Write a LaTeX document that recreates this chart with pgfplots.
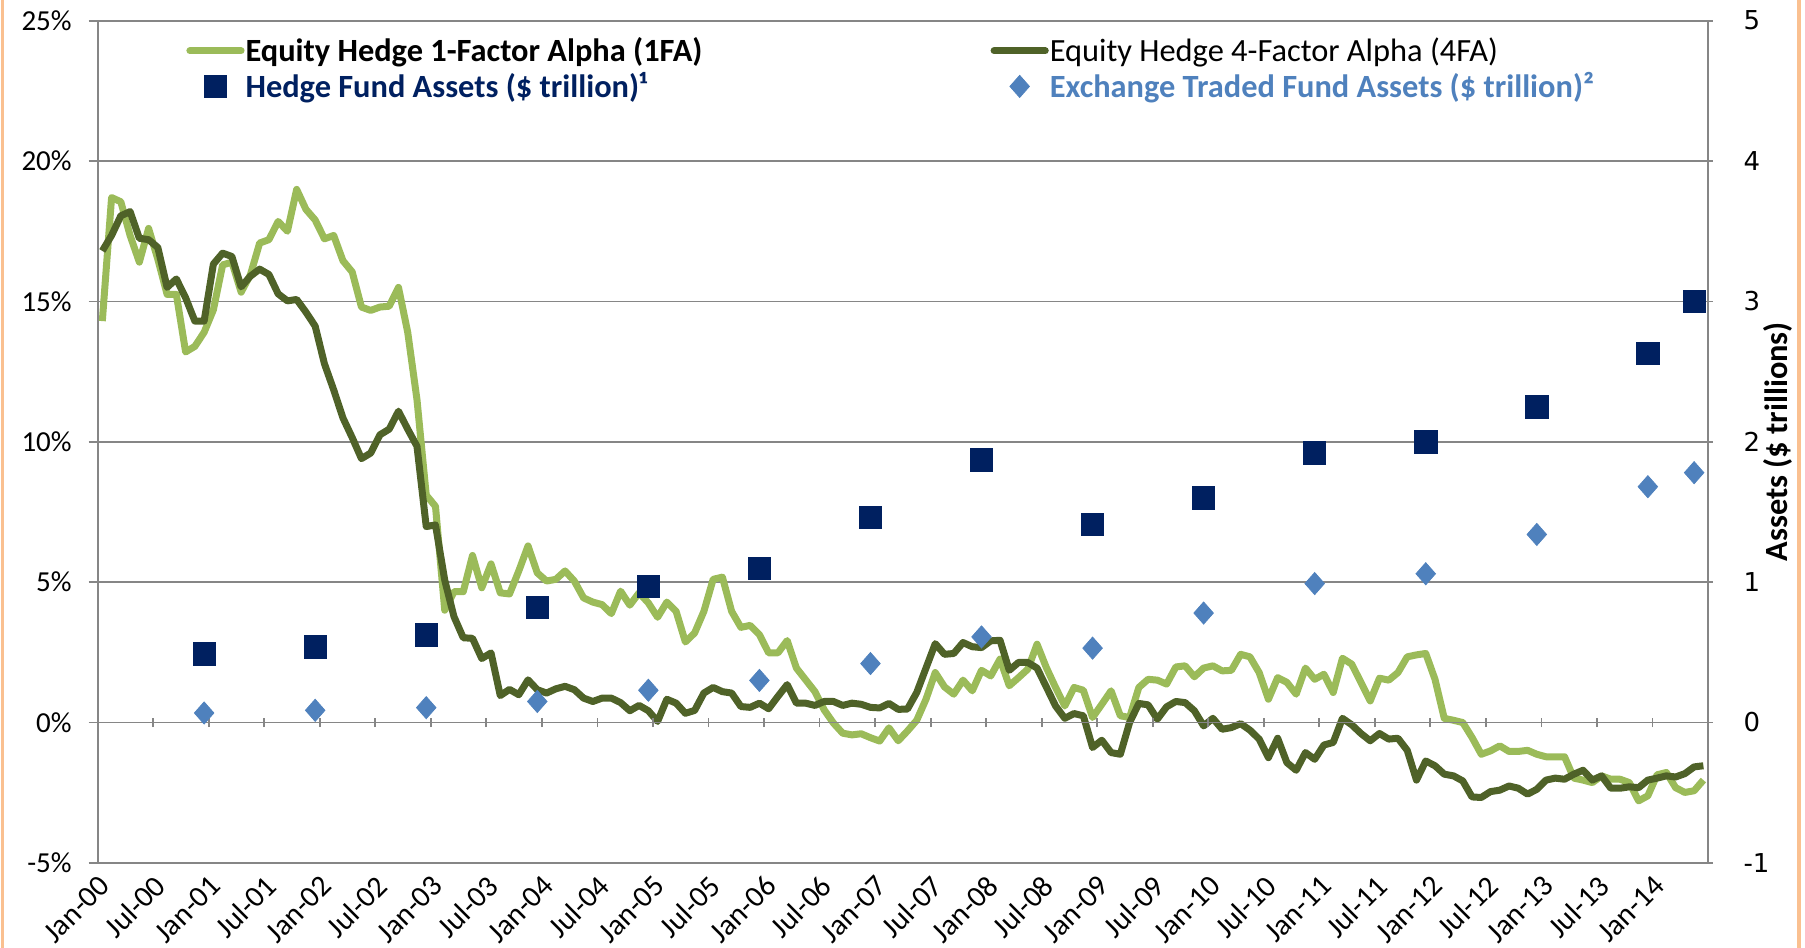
\documentclass[border=0pt]{standalone}
\usepackage{fontspec}
\setmainfont{Carlito}
\newfontfamily\verd{DejaVu Sans}
\usepackage{pgfplots}
\usepackage{pgfplotstable}
\pgfplotsset{compat=1.18}
\definecolor{lg}{HTML}{9BBB59}
\definecolor{dg}{HTML}{4F6228}
\definecolor{hf}{HTML}{002060}
\definecolor{etf}{HTML}{4F81BD}
\definecolor{gridc}{HTML}{868686}
\definecolor{frameor}{HTML}{FAC090}
\pgfplotstableread{
i a1 a4
0 14.3 16.8
1 18.7 17.35
2 18.55 18.05
3 17.35 18.2
4 16.4 17.25
5 17.6 17.2
6 16.5 16.92
7 15.25 15.5
8 15.25 15.8
9 13.2 15.13
10 13.4 14.3
11 13.9 14.3
12 14.7 16.33
13 16.3 16.72
14 16.4 16.6
15 15.33 15.52
16 15.95 15.9
17 17.08 16.15
18 17.2 15.96
19 17.85 15.27
20 17.5 15.02
21 18.99 15.07
22 18.28 14.62
23 17.9 14.12
24 17.23 12.78
25 17.35 11.85
26 16.45 10.85
27 16.05 10.15
28 14.8 9.4
29 14.68 9.6
30 14.8 10.25
31 14.83 10.45
32 15.5 11.09
33 13.9 10.45
34 11.5 9.84
35 8.1 6.98
36 7.7 7.04
37 4.0 5.07
38 4.66 3.77
39 4.66 3.02
40 5.95 3.0
41 4.8 2.28
42 5.65 2.48
43 4.62 0.96
44 4.58 1.18
45 5.4 0.99
46 6.29 1.52
47 5.33 1.17
48 5.04 1.05
49 5.1 1.2
50 5.4 1.29
51 5.04 1.17
52 4.44 0.87
53 4.29 0.75
54 4.2 0.87
55 3.88 0.87
56 4.68 0.71
57 4.18 0.42
58 4.62 0.61
59 4.26 0.42
60 3.75 0.04
61 4.29 0.83
62 3.96 0.69
63 2.87 0.33
64 3.19 0.43
65 3.96 1.05
66 5.1 1.25
67 5.18 1.1
68 3.96 1.05
69 3.39 0.57
70 3.46 0.54
71 3.13 0.69
72 2.48 0.49
73 2.48 0.93
74 2.92 1.35
75 1.94 0.69
76 1.52 0.69
77 1.1 0.61
78 0.45 0.75
79 -0.02 0.75
80 -0.38 0.61
81 -0.44 0.69
82 -0.4 0.65
83 -0.54 0.54
84 -0.66 0.52
85 -0.19 0.68
86 -0.65 0.47
87 -0.3 0.48
88 0.08 1.07
89 0.83 1.94
90 1.78 2.81
91 1.27 2.43
92 1.01 2.46
93 1.51 2.85
94 1.13 2.7
95 1.86 2.67
96 1.66 2.91
97 2.26 2.93
98 1.31 1.86
99 1.6 2.14
100 1.9 2.14
101 2.79 1.94
102 1.96 1.27
103 1.25 0.59
104 0.59 0.15
105 1.25 0.32
106 1.15 0.24
107 0.18 -0.89
108 0.65 -0.63
109 1.13 -1.07
110 0.24 -1.13
111 0.18 0.0
112 1.25 0.68
113 1.54 0.63
114 1.51 0.12
115 1.37 0.56
116 1.98 0.75
117 2.02 0.71
118 1.63 0.42
119 1.94 -0.12
120 2.02 0.15
121 1.84 -0.24
122 1.86 -0.18
123 2.43 -0.04
124 2.34 -0.27
125 1.78 -0.59
126 0.83 -1.25
127 1.6 -0.56
128 1.43 -1.43
129 1.01 -1.7
130 1.94 -1.07
131 1.54 -1.31
132 1.72 -0.8
133 1.07 -0.71
134 2.29 0.15
135 2.08 -0.08
136 1.43 -0.39
137 0.77 -0.65
138 1.58 -0.39
139 1.51 -0.59
140 1.78 -0.56
141 2.34 -0.99
142 2.41 -2.05
143 2.46 -1.37
144 1.54 -1.54
145 0.15 -1.84
146 0.08 -1.9
147 0.0 -2.08
148 -0.53 -2.65
149 -1.13 -2.67
150 -1.01 -2.46
151 -0.83 -2.41
152 -1.03 -2.26
153 -1.03 -2.34
154 -0.99 -2.55
155 -1.13 -2.38
156 -1.22 -2.05
157 -1.22 -1.98
158 -1.22 -2.02
159 -1.98 -1.84
160 -2.05 -1.7
161 -2.14 -2.05
162 -1.9 -1.9
163 -2.02 -2.34
164 -2.02 -2.34
165 -2.14 -2.29
166 -2.79 -2.32
167 -2.61 -2.05
168 -1.86 -1.98
169 -1.78 -1.9
170 -2.32 -1.94
171 -2.49 -1.82
172 -2.43 -1.58
173 -2.05 -1.54
}\alphas
\pgfplotstableread{
i hf etf
11 0.49 0.068
23 0.54 0.087
35 0.625 0.106
47 0.82 0.15
59 0.97 0.23
71 1.10 0.30
83 1.46 0.42
95 1.87 0.61
107 1.41 0.53
119 1.60 0.78
131 1.92 0.99
143 2.00 1.06
155 2.25 1.34
167 2.63 1.68
172 3.00 1.78
}\assets
\begin{document}
\begin{tikzpicture}
\path[use as bounding box] (-48.85pt,-42.55pt) rectangle (853.65pt,431.45pt);
\draw[frameor, line width=1.6pt] (-47.6pt,-42.55pt) -- (-47.6pt,431.45pt);
\draw[frameor, line width=1.6pt] (850.65pt,-42.55pt) -- (850.65pt,431.45pt);
\pgfplotsset{base/.style={scale only axis, width=805.15pt, height=421.1pt,
  xmin=-0.5, xmax=173.5, at={(0pt,0pt)}, anchor=south west,
  tick align=outside, major tick length=4.5pt,
  axis line style={gridc, line width=0.9pt}}}
\begin{axis}[base, ymin=-5, ymax=25,
  ytick={-5,0,...,25}, yticklabels={-5\%,0\%,5\%,10\%,15\%,20\%,25\%},
  ytick pos=left, xtick pos=bottom,
  ymajorgrids, grid style={gridc, line width=0.9pt},
  ytick style={gridc, line width=0.9pt},
  xtick={0,6,...,168},
  xticklabels={Jan-00,Jul-00,Jan-01,Jul-01,Jan-02,Jul-02,Jan-03,Jul-03,Jan-04,Jul-04,Jan-05,Jul-05,Jan-06,Jul-06,Jan-07,Jul-07,Jan-08,Jul-08,Jan-09,Jul-09,Jan-10,Jul-10,Jan-11,Jul-11,Jan-12,Jul-12,Jan-13,Jul-13,Jan-14},
  xtick style={draw=none},
  xticklabel style={rotate=45, anchor=east, yshift=-4pt, xshift=1pt, font=\fontsize{15}{17}\selectfont},
  yticklabel style={xshift=-5pt, font=\fontsize{14.5}{17}\selectfont},
]
\addplot[lg, line width=3.5pt, line join=round] table[x=i, y=a1] {\alphas};
\addplot[dg, line width=3.5pt, line join=round] table[x=i, y=a4] {\alphas};
\end{axis}
\begin{axis}[base, ymin=-1, ymax=5,
  axis x line=middle, axis y line=right,
  axis line style={-},
  xtick={5.5,11.5,...,167.5}, xticklabels={},
  xtick style={gridc, line width=0.9pt},
  ytick={-1,0,...,5}, yticklabels={-1,0,1,2,3,4,5},
  ytick style={gridc, line width=0.9pt},
  yticklabel style={xshift=12pt, font=\verd\fontsize{13}{15}\selectfont},
  ylabel={\textbf{Assets (\$ trillions)}},
  ylabel style={font=\fontsize{16.2}{19}\selectfont, at={(axis description cs:1.0433,0.5)}, anchor=center, rotate=0},
  legend columns=2,
  legend cell align=left,
  legend image code/.code={\draw[mark repeat=2, mark phase=2, #1] plot coordinates {(1.7pt,0pt) (14.5pt,0pt) (27.3pt,0pt)};},
  legend style={at={(axis description cs:0.05483,0.982)}, anchor=north west, draw=none, fill=none,
    inner sep=0pt, nodes={inner sep=0.5pt}, row sep=3pt,
    font=\fontsize{16.2}{19}\selectfont},
]
\addlegendimage{lg, line width=3.5pt, line cap=round}
\addlegendentry{\makebox[372pt][l]{\textbf{Equity Hedge 1-Factor Alpha (1FA)}}}
\addlegendimage{dg, line width=3.5pt, line cap=round}
\addlegendentry{Equity Hedge 4-Factor Alpha (4FA)}
\addplot[only marks, mark=square*, mark size=5.6pt, hf] table[x=i, y=hf] {\assets};
\addlegendentry{\textcolor{hf}{\textbf{Hedge Fund Assets (\$ trillion)¹}}}
\addplot[only marks, mark=diamond*, mark size=6.5pt, etf, mark options={yscale=0.85}] table[x=i, y=etf] {\assets};
\addlegendentry{\textcolor{etf}{\textbf{Exchange Traded Fund Assets (\$ trillion)²}}}
\end{axis}
\end{tikzpicture}
\end{document}
